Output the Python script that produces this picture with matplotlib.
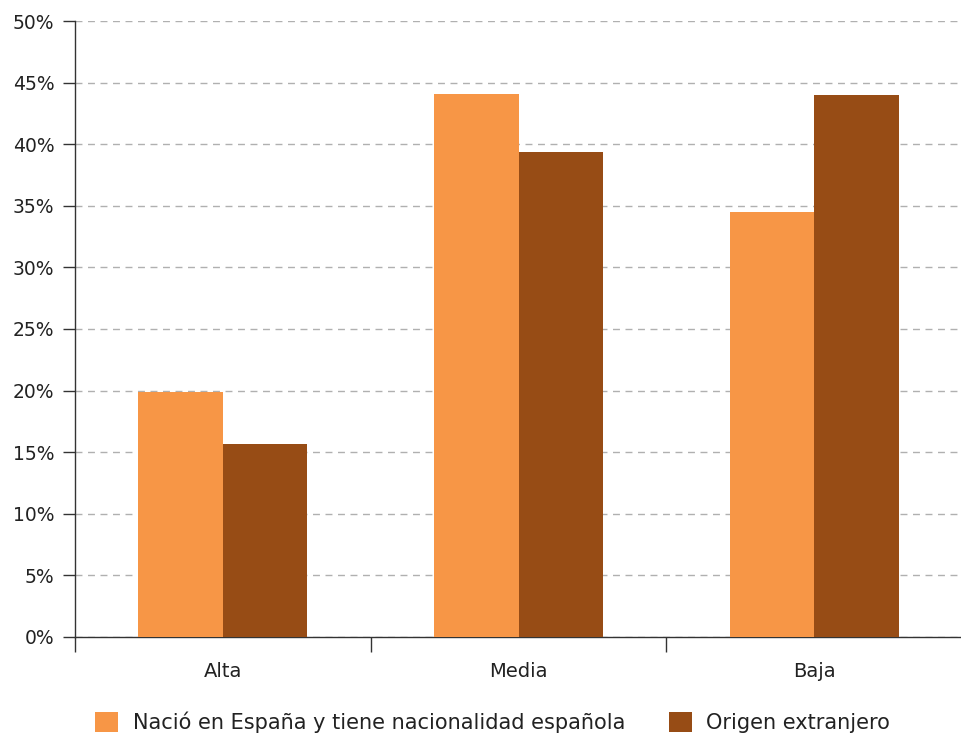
import numpy as np
import matplotlib.pyplot as plt
from matplotlib.ticker import FuncFormatter

categories = ['Alta', 'Media', 'Baja']
espana = [19.9, 44.1, 34.5]
extranjero = [15.7, 39.4, 44.0]
series_labels = ['Nació en España y tiene nacionalidad española', 'Origen extranjero']

plt.rcParams['font.family'] = ['DejaVu Sans']

fig = plt.figure(figsize=(9.62, 7.38), dpi=100)
ax = fig.add_axes([0.078, 0.137, 0.922, 0.8345])

x = np.arange(len(categories))
w = 0.286
ax.bar(x, espana, width=-w, align='edge', color='#F79646', label=series_labels[0], zorder=3)
ax.bar(x, extranjero, width=w, align='edge', color='#974C15', label=series_labels[1], zorder=3)

ax.set_xlim(-0.5, len(categories) - 0.5)
ax.set_ylim(0, 50)
ax.set_yticks(np.arange(0, 51, 5))
ax.yaxis.set_major_formatter(FuncFormatter(lambda v, p: f'{v:.0f}%'))
ax.yaxis.grid(True, linestyle=(0, (5, 4)), color='#b0b0b0', linewidth=1, zorder=0)

# boundary ticks on x, labels centred under each group
ax.set_xticks(np.arange(-0.5, len(categories), 1.0))
ax.set_xticklabels([])
ax.set_xticks(x, minor=True)
ax.set_xticklabels(categories, minor=True)
ax.tick_params(axis='x', which='major', direction='out', length=11, width=1, color='#333333')
ax.tick_params(axis='x', which='minor', length=0, pad=18, labelsize=14, labelcolor='#222222')
ax.tick_params(axis='y', direction='out', length=9, width=1, color='#333333', labelsize=13.5, labelcolor='#222222', pad=6)

for s in ['top', 'right']:
    ax.spines[s].set_visible(False)
for s in ['left', 'bottom']:
    ax.spines[s].set_color('#333333')
    ax.spines[s].set_linewidth(1)

fig.legend(loc='lower center', bbox_to_anchor=(0.512, -0.009), ncol=2, frameon=False,
           fontsize=15, handlelength=1.1, handleheight=1.1, columnspacing=2.1,
           handletextpad=0.7, borderpad=0.05, labelcolor='#222222')

fig.savefig('out.png', dpi=100)
